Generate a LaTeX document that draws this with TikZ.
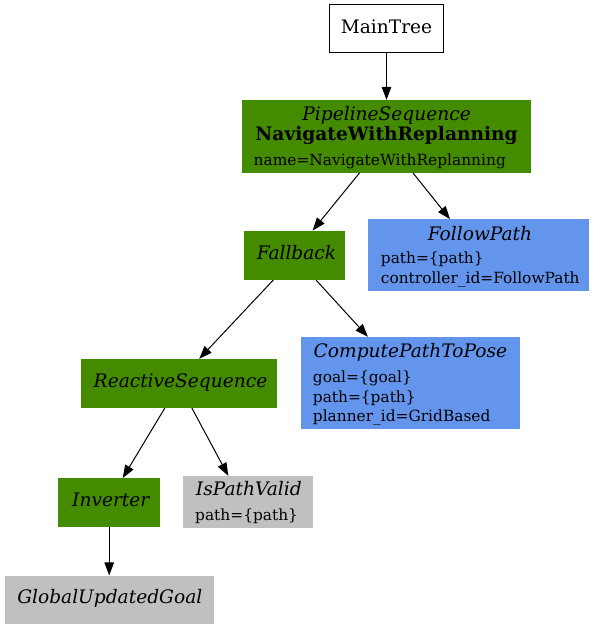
\documentclass[tikz,border=0pt]{standalone}
\usepackage{fontspec}
\setmainfont{DejaVu Serif}
\usetikzlibrary{arrows.meta}
\definecolor{bgreen}{HTML}{458B00}
\definecolor{bblue}{HTML}{6495ED}
\definecolor{bgray}{HTML}{C0C0C0}
\begin{document}
\begin{tikzpicture}[x=1pt,y=-1pt,
  boxbase/.style={rectangle, inner sep=0pt, draw=none},
  greenbox/.style={boxbase, fill=bgreen},
  bluebox/.style={boxbase, fill=bblue},
  graybox/.style={boxbase, fill=bgray},
  plainbox/.style={boxbase, draw=black, line width=1pt, fill=white},
  ttl/.style={inner sep=0pt, anchor=base, font=\fontsize{18.6}{20}\selectfont\itshape},
  ttlup/.style={inner sep=0pt, anchor=base, font=\fontsize{18.6}{20}\selectfont},
  ttlbf/.style={inner sep=0pt, anchor=base, font=\fontsize{18.6}{20}\selectfont\bfseries},
  attr/.style={inner sep=0pt, anchor=base west, font=\fontsize{15.4}{17}\selectfont},
  edge/.style={line width=1pt, -{Triangle[length=13pt,width=9.5pt]}}
]
\useasboundingbox (0,0) rectangle (594,629);

% boxes
\node[plainbox, minimum width=113.5, minimum height=47.5] (main) at (386.5,28.7) {};
\node[greenbox, minimum width=288.7, minimum height=72.7] (pipe) at (386.5,136.4) {};
\node[greenbox, minimum width=101.3, minimum height=49] (fb) at (294.6,255.3) {};
\node[bluebox, minimum width=221, minimum height=71.7] (follow) at (478.8,255.2) {};
\node[greenbox, minimum width=196.5, minimum height=48.5] (rseq) at (179.2,383.3) {};
\node[bluebox, minimum width=219.3, minimum height=92] (compute) at (410.4,383) {};
\node[greenbox, minimum width=101.7, minimum height=48.4] (inv) at (109.2,502.5) {};
\node[graybox, minimum width=130.6, minimum height=52.3] (valid) at (248,502.2) {};
\node[graybox, minimum width=209, minimum height=48.3] (goal) at (109.2,599.8) {};

% texts
\node[ttlup] (mainT) at (386.5,33.5) {MainTree};
\node[ttl] (pipeT) at (386.6,120) {PipelineSequence};
\node[ttlbf] (pipeB) at (386.6,140) {NavigateWithReplanning};
\node[attr] (pipeA) at (253.5,165.7) {name=NavigateWithReplanning};
\node[ttl] (fbT) at (296.5,259) {Fallback};
\node[ttl] (followT) at (480,240) {FollowPath};
\node[attr] (followA) at (380.7,263.5) {path=\{path\}};
\node[attr] (followB) at (380.7,283.3) {controller\_id=FollowPath};
\node[ttl] (rseqT) at (180.5,387.7) {ReactiveSequence};
\node[ttl] (computeT) at (410.4,357) {ComputePathToPose};
\node[attr] (computeA) at (312.7,382.7) {goal=\{goal\}};
\node[attr] (computeB) at (312.7,402.7) {path=\{path\}};
\node[attr] (computeC) at (312.7,421.7) {planner\_id=GridBased};
\node[ttl] (invT) at (110.8,506.7) {Inverter};
\node[ttl] (validT) at (248.8,495) {IsPathValid};
\node[attr] (validA) at (195,520.7) {path=\{path\}};
\node[ttl] (goalT) at (109.8,603.3) {GlobalUpdatedGoal};

% edges
\draw[edge] (main.south) -- (pipe.north);
\draw[edge] ([xshift=-27pt]pipe.south) -- ([xshift=18pt]fb.north);
\draw[edge] ([xshift=26.5pt]pipe.south) -- ([xshift=-28.8pt]follow.north);
\draw[edge] ([xshift=-21.3pt]fb.south) -- ([xshift=20pt]rseq.north);
\draw[edge] ([xshift=21.4pt]fb.south) -- ([xshift=-42.5pt]compute.north);
\draw[edge] ([xshift=-14.2pt]rseq.south) -- ([xshift=13.5pt]inv.north);
\draw[edge] ([xshift=12.5pt]rseq.south) -- ([xshift=-19.7pt]valid.north);
\draw[edge] (inv.south) -- (goal.north);
\end{tikzpicture}
\end{document}
